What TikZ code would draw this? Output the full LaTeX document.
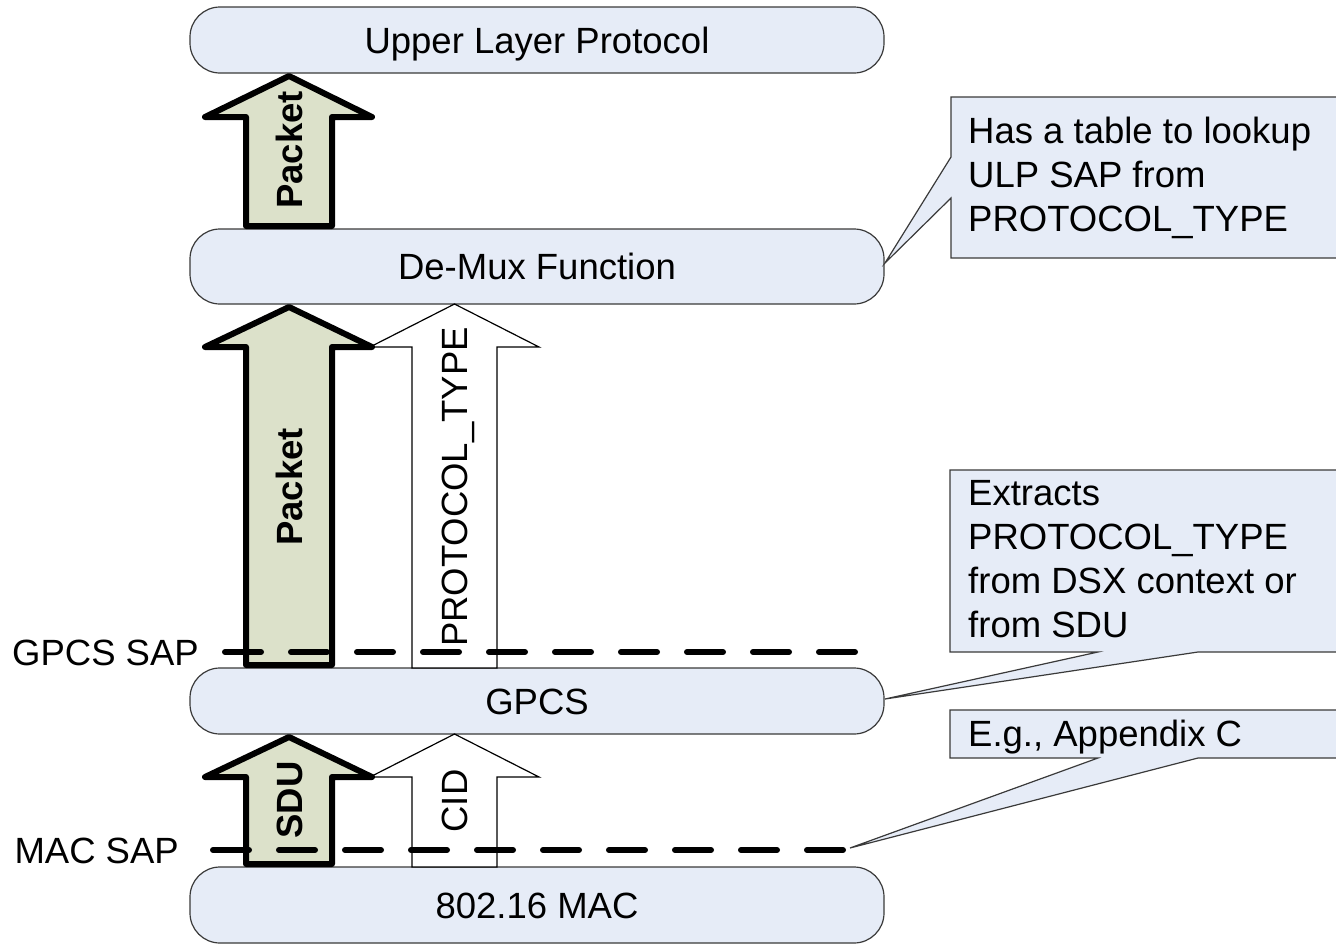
\documentclass[tikz,border=0pt]{standalone}
\usepackage{fontspec}
\setmainfont{Liberation Sans}
\definecolor{layerblue}{HTML}{E6ECF7}
\definecolor{arrowgreen}{HTML}{DCE1CA}
\definecolor{edgegray}{HTML}{3A3A3A}
\begin{document}
\begin{tikzpicture}[x=1pt,y=-1pt,
  every node/.style={font=\fontsize{36.5}{44}\selectfont, inner sep=0pt},
  captext/.style={text height=26pt, text depth=0pt},
  layer/.style={draw=edgegray, line width=1.2pt, fill=layerblue, rounded corners=30pt,
    minimum width=694pt, captext},
  bigarrow/.style={draw=black, line width=6pt, line join=round, fill=arrowgreen},
  thinarrow/.style={draw=black, line width=1.2pt, fill=white},
  sapline/.style={line width=6pt, line cap=round, dash pattern=on 36pt off 30pt},
  callout/.style={draw=edgegray, line width=1.2pt, fill=layerblue},
  vlabel/.style={rotate=90, captext}
]
\useasboundingbox (0,0) rectangle (1336,945);

% layers
\node[layer, minimum height=66pt] (ulp)   at (537,40)    {Upper Layer Protocol};
\node[layer, minimum height=75pt] (demux) at (537,266.5) {De-Mux Function};
\node[layer, minimum height=66pt] (gpcs)  at (537,701)   {GPCS};
\node[layer, minimum height=76pt] (mac)   at (537,905)   {802.16 MAC};

% thin arrows
\draw[thinarrow] (412,668) -- (412,347) -- (370,347) -- (454.5,304) -- (539,347) -- (497,347) -- (497,668) -- cycle;
\draw[thinarrow] (412,867) -- (412,777) -- (370,777) -- (454.5,734) -- (539,777) -- (497,777) -- (497,867) -- cycle;

% big arrows
\draw[bigarrow] (246,226) -- (246,117) -- (205,117) -- (289,76) -- (372,117) -- (332,117) -- (332,226) -- cycle;
\draw[bigarrow] (246,665) -- (246,347) -- (205,347) -- (289,307) -- (372,347) -- (332,347) -- (332,665) -- cycle;
\draw[bigarrow] (246,864) -- (246,777) -- (205,777) -- (289,737) -- (372,777) -- (332,777) -- (332,864) -- cycle;

% arrow labels
\node[vlabel, font=\fontsize{36.5}{44}\selectfont\bfseries] (pk1) at (289,150) {Packet};
\node[vlabel, font=\fontsize{36.5}{44}\selectfont\bfseries] (pk2) at (289,487) {Packet};
\node[vlabel, font=\fontsize{36.5}{44}\selectfont\bfseries] (sdu) at (289,800) {SDU};
\node[vlabel] (ptype) at (454,487) {PROTOCOL\_TYPE};
\node[vlabel] (cid) at (454,801) {CID};

% SAP lines
\coordinate (gs1) at (225,652);
\coordinate (gs2) at (855,652);
\coordinate (ms1) at (213,850);
\coordinate (ms2) at (848,850);
\draw[sapline] (gs1) -- (gs2);
\draw[sapline] (ms1) -- (ms2);
\node[captext, anchor=east] (gsap) at (199,652) {GPCS SAP};
\node[captext, anchor=east] (msap) at (179,850) {MAC SAP};

% callouts
\draw[callout] (951,97) -- (1345,97) -- (1345,258) -- (951,258) -- (951,198) -- (885,263) -- (951,157) -- cycle;
\draw[callout] (950,470) -- (1345,470) -- (1345,652) -- (1198,652) -- (885,699) -- (1098,652) -- (950,652) -- cycle;
\draw[callout] (950,710) -- (1345,710) -- (1345,758) -- (1198,758) -- (850,848) -- (1098,758) -- (950,758) -- cycle;

\node[anchor=north west, align=left] (c1) at (968,117) {Has a table to lookup\\ULP SAP from\\PROTOCOL\_TYPE};
\node[anchor=north west, align=left] (c2) at (968,480) {Extracts\\PROTOCOL\_TYPE\\from DSX context or\\from SDU};
\node[anchor=north west, align=left] (c3) at (968,720) {E.g., Appendix C};
\end{tikzpicture}
\end{document}
